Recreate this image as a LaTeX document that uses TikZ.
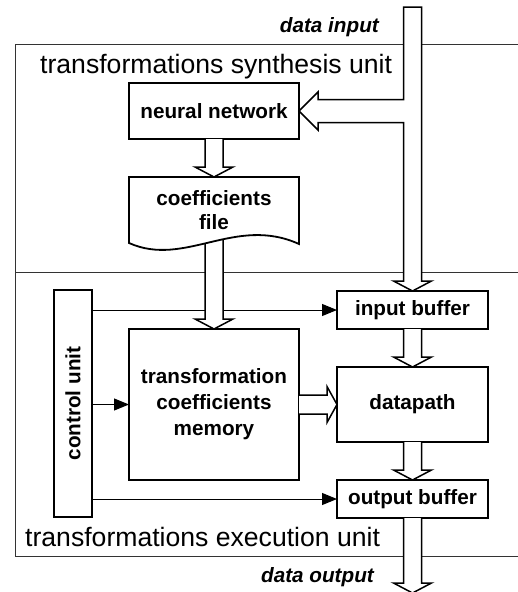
\documentclass[tikz,border=0pt]{standalone}
\usepackage{fontspec}
\setmainfont{Liberation Sans}
\usetikzlibrary{calc,arrows.meta}
\newcommand\fatv[2]{\draw[fat] ($(#1)+(-9,0)$) -- ($(#2)+(-9,-10)$) -- ($(#2)+(-19,-10)$) -- (#2) -- ($(#2)+(19,-10)$) -- ($(#2)+(9,-10)$) -- ($(#1)+(9,0)$);}
\begin{document}
\begin{tikzpicture}[x=1pt,y=-1pt,
  box/.style={draw, line width=1.8pt, font=\fontsize{20.7}{26}\bfseries\selectfont, align=center, inner sep=0pt, outer sep=0pt},
  fat/.style={draw, line width=1.5pt, fill=white, line join=miter},
  ctl/.style={line width=1pt, -{Triangle[length=15pt,width=12pt]}},
  framel/.style={draw=black!80, line width=1pt},
  unitlbl/.style={font=\fontsize{26.6}{30}\selectfont, inner sep=0pt},
  iolbl/.style={font=\fontsize{20.7}{24}\bfseries\itshape\selectfont, inner sep=0pt},
  txt/.style={font=\fontsize{20.7}{24}\bfseries\selectfont, align=center, inner sep=0pt}]
\useasboundingbox (0,0) rectangle (518,592);
% frame
\draw[framel] (518,44) -- (15,44) -- (15,556) -- (518,556);
\draw[framel] (15,272) -- (518,272);
% labels
\node[unitlbl, anchor=base west] (synl) at (40,73) {transformations synthesis unit};
\node[unitlbl, anchor=base west] (exel) at (25,546) {transformations execution unit};
\node[iolbl, anchor=base east] (inl) at (379,32) {data input};
\node[iolbl, anchor=base east] (outl) at (374,582) {data output};
% boxes
\node[box, minimum width=170, minimum height=56] (nn) at (214,111) {neural network};
\node[inner sep=0pt, outer sep=0pt, minimum width=170, minimum height=66] (cf) at (214,210) {};
\node[box, minimum width=170, minimum height=151, font=\fontsize{20.7}{26}\bfseries\selectfont] (mem) at (214,404.5) {transformation\\coefficients\\memory};
\node[box, minimum width=151, minimum height=38] (ib) at (412.5,310) {input buffer};
\node[box, minimum width=151, minimum height=75] (dp) at (412.5,404.5) {datapath};
\node[box, minimum width=151, minimum height=38] (ob) at (412.5,499) {output buffer};
\node[box, minimum width=38, minimum height=227] (cu) at (73,403.5) {};
\node[txt, rotate=90] (cut) at (cu.center) {control unit};
\coordinate (din) at (412.5,7);
\coordinate (dout) at (412.5,593);
\coordinate (dinl) at ($(din)+(-9,0)$);
\coordinate (nnlo) at ($(nn.east)+(0,11.5)$);
\coordinate (nnhi) at ($(nn.east)+(0,-11.5)$);
% control lines
\draw[ctl] (cu.east |- ib.west) -- (ib.west);
\draw[ctl] (cu.east |- mem.west) -- (mem.west);
\draw[ctl] (cu.east |- ob.west) -- (ob.west);
% fat arrows
\fatv{nn.south}{cf.north}
\draw[fat] ($(cf.south)+(-9,-8)$) -- ($(mem.north)+(-9,-10)$) -- ($(mem.north)+(-19,-10)$) -- (mem.north) -- ($(mem.north)+(19,-10)$) -- ($(mem.north)+(9,-10)$) -- ($(cf.south)+(9,-8)$);
\fatv{ib.south}{dp.north}
\fatv{dp.south}{ob.north}
\fatv{ob.south}{dout}
\draw[fat] ($(mem.east)+(0,-9.5)$) -- ($(dp.west)+(-10,-9.5)$) -- ($(dp.west)+(-10,-18)$) -- (dp.west) -- ($(dp.west)+(-10,18)$) -- ($(dp.west)+(-10,9.5)$) -- ($(mem.east)+(0,9.5)$);
\draw[fat] (dinl) -- ($(din)+(9,0)$) -- ($(ib.north)+(9,-10)$) -- ($(ib.north)+(19,-10)$) -- (ib.north) -- ($(ib.north)+(-19,-10)$) -- ($(ib.north)+(-9,-10)$)
  -- (dinl |- nnlo) -- ($(nn.east)+(19,11.5)$) -- ($(nn.east)+(19,19)$) -- (nn.east) -- ($(nn.east)+(19,-19)$) -- ($(nn.east)+(19,-11.5)$) -- (dinl |- nnhi) -- cycle;
% coefficients file (document shape)
\draw[line width=1.8pt, fill=white, line join=miter] (cf.south west) -- (cf.north west) -- (cf.north east) -- ($(cf.south east)+(0,1)$) .. controls (235,215) and (185,268) .. (cf.south west) -- cycle;
\node[txt] (cft) at (cf.center) {coefficients\\file};
\end{tikzpicture}
\end{document}
